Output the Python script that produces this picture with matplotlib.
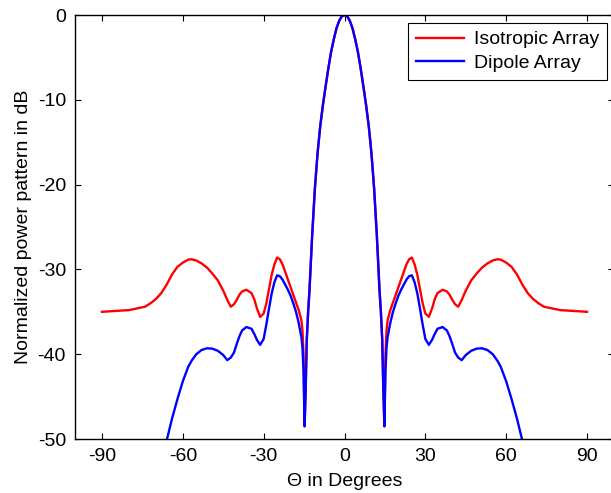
import numpy as np
import matplotlib
matplotlib.use('Agg')
import matplotlib.pyplot as plt

plt.rcParams['font.family'] = ['Liberation Sans', 'DejaVu Sans']
plt.rcParams['axes.unicode_minus'] = False

# one half of the pattern (theta >= 0), the plot is symmetric about 0
theta_half = [0, 1, 2, 3, 4, 5, 6, 7, 8, 9, 10, 11, 12, 13, 13.5, 14, 14.4, 14.8,
              15.2, 15.6, 16, 17, 18, 19, 20, 21, 22, 23, 24, 25, 26, 27, 28, 29,
              30, 31.3, 32.5, 33.5, 34.5, 36.4, 38, 39, 40, 41, 42.2, 43.5, 45,
              47, 49, 51, 53, 55, 56.8, 58, 60, 62, 64, 66, 68, 70, 72, 74, 77,
              80, 85, 90]
iso_half = [0, -0.15, -0.7, -1.6, -2.9, -4.4, -6.3, -8.4, -10.6, -13.1, -16.3,
            -20.5, -26.0, -32.5, -35.0, -38.3, -44.0, -48.5,
            -40.0, -37.2, -36.0, -34.8, -33.9, -33.0, -32.1, -31.2, -30.3, -29.4,
            -28.8, -28.6, -29.4, -30.6, -32.3, -34.0, -35.2, -35.6, -34.6, -33.5,
            -32.8, -32.4, -32.6, -33.0, -33.6, -34.1, -34.4, -33.6, -32.5,
            -31.3, -30.5, -29.8, -29.3, -28.95, -28.8, -28.85, -29.2, -29.7,
            -30.6, -31.8, -32.8, -33.5, -34.0, -34.4, -34.6, -34.8, -34.9, -35.0]
dip_half = [0, -0.15, -0.7, -1.6, -2.9, -4.4, -6.3, -8.4, -10.6, -13.1, -16.3,
            -20.5, -26.0, -32.5, -35.0, -38.3, -44.0, -48.5,
            -42.0, -39.2, -38.0, -36.3, -35.0, -34.0, -33.1, -32.4, -31.8, -31.2,
            -30.8, -30.7, -31.5, -32.8, -34.6, -36.5, -38.2, -38.9, -38.3, -37.6,
            -37.0, -36.8, -37.2, -37.9, -38.8, -39.8, -40.4, -40.7, -40.1,
            -39.6, -39.35, -39.3, -39.5, -40.0, -40.8, -41.5, -43.2, -45.3,
            -47.6, -50.2, -52.8, -55.5, -58.0, -60.5, -64.0, -67.0, -72.0, -78.0]

theta = np.concatenate([-np.array(theta_half[::-1]), np.array(theta_half[1:])])
iso = np.concatenate([np.array(iso_half[::-1]), np.array(iso_half[1:])])
dip = np.concatenate([np.array(dip_half[::-1]), np.array(dip_half[1:])])

fig = plt.figure(figsize=(6.11, 4.93), dpi=100)
ax = fig.add_axes([75 / 611, 54 / 493, 539 / 611, 424 / 493])

ax.plot(theta, iso, color='red', lw=1.7, label='Isotropic Array')
ax.plot(theta, dip, color='blue', lw=1.7, label='Dipole Array')

ax.set_xlim(-100, 100)
ax.set_ylim(-50, 0)
ax.set_xticks([-90, -60, -30, 0, 30, 60, 90])
ax.set_yticks([-50, -40, -30, -20, -10, 0])
ax.tick_params(direction='in', top=True, right=True, length=4, width=0.8,
               labelsize=14, pad=6.5)
for s in ax.spines.values():
    s.set_linewidth(1.0)

ax.set_xlabel('\u0398 in Degrees', fontsize=14, labelpad=6)
ax.set_ylabel('Normalized power pattern in dB', fontsize=14, labelpad=4)

leg = ax.legend(loc='upper right', bbox_to_anchor=(0.987, 0.981), borderaxespad=0,
                fancybox=False, framealpha=1, edgecolor='black', fontsize=14,
                handlelength=2.5, handletextpad=0.5, labelspacing=0.3,
                borderpad=0.4)
leg.get_frame().set_linewidth(0.8)

fig.savefig('out.png', dpi=100)
